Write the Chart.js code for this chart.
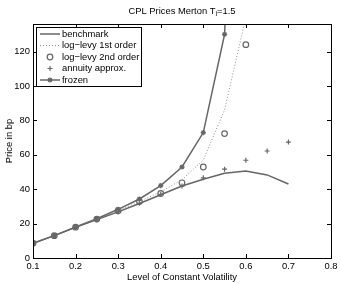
<!DOCTYPE html>
<html>
<head>
<meta charset="utf-8">
<script src="https://cdn.jsdelivr.net/npm/chart.js@4/dist/chart.umd.min.js"></script>
<style>
  html, body { margin: 0; padding: 0; background: #fff; }
  #wrap { width: 341px; height: 284px; }
</style>
</head>
<body>
<div id="wrap"><canvas id="cpl" width="341" height="284"></canvas></div>
<script>
// volatility levels and prices in bp
var vol        = [0.1, 0.15, 0.2, 0.25, 0.3, 0.35, 0.4, 0.45, 0.5, 0.55, 0.6, 0.65, 0.7]
var benchmark  = [8.6, 13, 17.8, 22.3, 26.8, 31.7, 36.8, 41.8, 45.8, 49.2, 50.6, 48.3, 43]
var logLevy1   = [8.6, 13, 17.9, 22.6, 27.5, 32.8, 38.5, 45.5, 57, 86, 140, null, null]
var logLevy2   = [8.6, 13, 17.9, 22.6, 27.5, 32.8, 37.5, 43.7, 52.9, 72.3, 124, null, null]
var annuity    = [8.6, 13, 17.8, 22.3, 26.8, 31.8, 37, 41.8, 46.6, 51.6, 56.8, 62.2, 67.4]
var frozen     = [8.6, 13, 18, 22.8, 28.3, 34.3, 42.1, 52.9, 72.9, 130, 400, null, null]

var xTicks = [0.1, 0.2, 0.3, 0.4, 0.5, 0.6, 0.7, 0.8]
var yTicks = [0, 20, 40, 60, 80, 100, 120]

var FONT = '"Liberation Sans", Arial, Helvetica, sans-serif'
var DARK = '#666666'
var LIGHT = '#8f8f8f'

function pts(arr) {
    var out = []
    for (var i = 0; i < vol.length; i++) {
        if (arr[i] !== null) out.push({ x: vol[i], y: arr[i] })
    }
    return out
}

// matlab style box with inward ticks on all four sides
var boxPlugin = {
    id: 'box',
    afterDatasetsDraw: function(chart) {
        var ctx = chart.ctx, a = chart.chartArea
        var xs = chart.scales.x, ys = chart.scales.y
        ctx.save()
        ctx.strokeStyle = '#000'
        ctx.lineWidth = 1
        ctx.beginPath()
        xTicks.forEach(function(v) {
            var px = Math.round(xs.getPixelForValue(v)) + 0.5
            ctx.moveTo(px, a.bottom); ctx.lineTo(px, a.bottom - 4)
            ctx.moveTo(px, a.top); ctx.lineTo(px, a.top + 4)
        })
        yTicks.forEach(function(v) {
            var py = Math.round(ys.getPixelForValue(v)) + 0.5
            ctx.moveTo(a.left, py); ctx.lineTo(a.left + 4, py)
            ctx.moveTo(a.right, py); ctx.lineTo(a.right - 4, py)
        })
        ctx.stroke()
        ctx.strokeRect(Math.round(a.left) + 0.5, Math.round(a.top) + 0.5,
                       Math.round(a.right - a.left), Math.round(a.bottom - a.top))
        ctx.restore()
    }
}

// legend box in the upper left corner + title with subscript
var legendPlugin = {
    id: 'legendBox',
    afterDraw: function(chart) {
        var ctx = chart.ctx
        ctx.save()
        // title
        ctx.fillStyle = '#000'
        ctx.textBaseline = 'middle'
        var t1 = 'CPL Prices Merton T', t3 = '=1.5'
        ctx.font = '7px ' + FONT
        var w2 = ctx.measureText('i').width
        ctx.font = '9.4px ' + FONT
        var w1 = ctx.measureText(t1).width, w3 = ctx.measureText(t3).width
        var cx = (chart.chartArea.left + chart.chartArea.right) / 2
        var x0 = cx - (w1 + w2 + w3) / 2
        ctx.fillText(t1, x0, 11)
        ctx.fillText(t3, x0 + w1 + w2, 11)
        ctx.font = '7px ' + FONT
        ctx.fillText('i', x0 + w1, 14.5)

        // legend
        var bx = 36.5, by = 27.5, bw = 105, bh = 59
        ctx.fillStyle = '#fff'
        ctx.fillRect(bx, by, bw, bh)
        ctx.strokeStyle = '#000'
        ctx.lineWidth = 1
        ctx.strokeRect(bx, by, bw, bh)
        ctx.font = '9.4px ' + FONT
        var ds = chart.data.datasets
        for (var i = 0; i < ds.length; i++) {
            var y = 34 + i * 11.5
            var d = ds[i]
            if (d.showLine !== false) {
                ctx.strokeStyle = d.borderColor
                ctx.lineWidth = d.borderWidth
                ctx.setLineDash(d.borderDash || [])
                ctx.beginPath()
                ctx.moveTo(40, y); ctx.lineTo(60, y)
                ctx.stroke()
                ctx.setLineDash([])
            }
            if (d.pointRadius > 0) {
                ctx.strokeStyle = d.pointBorderColor
                ctx.fillStyle = d.pointBackgroundColor || 'rgba(0,0,0,0)'
                ctx.lineWidth = d.pointBorderWidth
                Chart.helpers.drawPoint(ctx, {
                    pointStyle: d.pointStyle, radius: d.pointRadius,
                    borderWidth: d.pointBorderWidth, rotation: 0
                }, 50, y)
            }
            ctx.fillStyle = '#000'
            ctx.fillText(d.label, 62, y)
        }
        ctx.restore()
    }
}

var ctx = document.getElementById('cpl').getContext('2d')
var cplChart = new Chart(ctx, {
    type: 'line',
    data: {
        datasets: [
            { label: 'benchmark', data: pts(benchmark), borderColor: DARK, borderWidth: 1.5,
              pointRadius: 0, tension: 0 },
            { label: 'log\u2212levy 1st order', data: pts(logLevy1), borderColor: LIGHT, borderWidth: 1,
              borderDash: [1, 2], pointRadius: 0, tension: 0 },
            { label: 'log\u2212levy 2nd order', data: pts(logLevy2), showLine: false,
              pointStyle: 'circle', pointRadius: 2.8, pointBorderWidth: 1.2,
              pointBorderColor: DARK, pointBackgroundColor: 'rgba(0,0,0,0)', borderColor: DARK },
            { label: 'annuity approx.', data: pts(annuity), showLine: false,
              pointStyle: 'cross', pointRadius: 2.5, pointBorderWidth: 1.2,
              pointBorderColor: DARK, pointBackgroundColor: DARK, borderColor: DARK },
            { label: 'frozen', data: pts(frozen), borderColor: DARK, borderWidth: 1.5,
              pointStyle: 'star', pointRadius: 2.6, pointBorderWidth: 1.3,
              pointBorderColor: DARK, pointBackgroundColor: DARK, tension: 0 }
        ]
    },
    options: {
        responsive: false,
        animation: false,
        events: [],
        layout: { padding: { top: 24, right: 10, left: 0, bottom: 0 } },
        plugins: { legend: { display: false }, title: { display: false }, tooltip: { enabled: false } },
        scales: {
            x: {
                type: 'linear', min: 0.1, max: 0.8,
                afterBuildTicks: function(s) { s.ticks = xTicks.map(function(v) { return { value: v } }) },
                afterFit: function(s) { s.height = 26 },
                grid: { display: false, drawTicks: false },
                border: { display: false },
                ticks: { color: '#000', padding: 3, maxRotation: 0, autoSkip: false,
                         font: { family: FONT, size: 9.4 },
                         callback: function(v) { return v.toFixed(1) } },
                title: { display: true, text: 'Level of Constant Volatility', color: '#000',
                         font: { family: FONT, size: 9.4 }, padding: { top: 0, bottom: 1 } }
            },
            y: {
                min: 0, max: 136,
                afterBuildTicks: function(s) { s.ticks = yTicks.map(function(v) { return { value: v } }) },
                afterFit: function(s) { s.width = 33 },
                grid: { display: false, drawTicks: false },
                border: { display: false },
                ticks: { color: '#000', padding: 3, autoSkip: false,
                         font: { family: FONT, size: 9.4 } },
                title: { display: true, text: 'Price in bp', color: '#000',
                         font: { family: FONT, size: 9.4 }, padding: { top: 4, bottom: 0 } }
            }
        }
    },
    plugins: [boxPlugin, legendPlugin]
})
</script>
</body>
</html>
